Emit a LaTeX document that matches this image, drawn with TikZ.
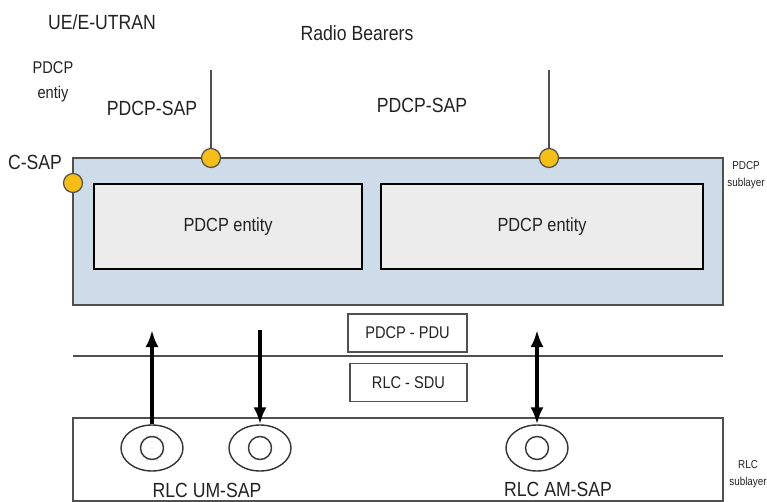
\documentclass[tikz,border=0pt]{standalone}
\usepackage{fontspec}
\setmainfont[FakeStretch=0.86]{Liberation Sans}
\usepackage{xcolor}
\usetikzlibrary{arrows.meta}
\usetikzlibrary{shapes.geometric}

\definecolor{layerblue}{RGB}{206,219,233}
\definecolor{entitygray}{RGB}{236,236,236}
\definecolor{sapyellow}{RGB}{247,190,22}
\definecolor{textgray}{RGB}{35,35,35}
\definecolor{linegray}{RGB}{80,80,80}

\tikzset{flowtip/.tip={Latex[length=17pt,width=13pt]}}

\begin{document}
\begin{tikzpicture}[x=1pt, y=-1pt,
  every node/.style={text=textgray, inner sep=0pt},
  biglabel/.style={font=\fontsize{20.5}{22}\selectfont},
  midlabel/.style={font=\fontsize{19}{21}\selectfont},
  smalllabel/.style={font=\fontsize{17}{25}\selectfont, align=center},
  tinylabel/.style={font=\fontsize{11.5}{17}\selectfont, align=center},
  sapdot/.style={circle, draw=linegray, fill=sapyellow, line width=1.2pt, minimum size=19pt},
  entitybox/.style={draw=black, line width=2.5pt, fill=entitygray, minimum width=268pt, minimum height=85pt, midlabel},
  dubox/.style={draw=linegray, line width=1.2pt, fill=white, minimum height=38pt, font=\fontsize{17}{19}\selectfont},
  sapring/.style={ellipse, draw=black!80, line width=1.4pt, minimum width=62pt, minimum height=46pt},
  sapcore/.style={circle, draw=black!80, line width=1.4pt, minimum size=23pt},
  flow/.style={line width=3.5pt, black}]

\useasboundingbox (0,0) rectangle (767,502);
\clip (0,0) rectangle (767,502);

% PDCP sublayer
\node[draw=linegray, line width=2pt, fill=layerblue, minimum width=650pt, minimum height=147pt] (pdcplayer) at (398,231.5) {};
\node[entitybox] (entityA) at (228,226.5) {PDCP entity};
\node[entitybox, minimum width=322pt] (entityB) at (542,226.5) {PDCP entity};

% service access points on top
\coordinate (bearerA) at (211,70);
\coordinate (bearerB) at (549,70);
\node[sapdot] (sapA) at (211,158) {};
\node[sapdot] (sapB) at (549,158) {};
\node[sapdot] (csap) at (73,183) {};
\draw[linegray, line width=1.5pt] (sapA) -- (bearerA);
\draw[linegray, line width=1.5pt] (sapB) -- (bearerB);

% texts above
\node[biglabel] (ue) at (102,22) {UE/E-UTRAN};
\node[biglabel] (bearers) at (357,33) {Radio Bearers};
\node[smalllabel] (entlabel) at (53,82) {PDCP\\entiy};
\node[biglabel] (saplabelA) at (152,108) {PDCP-SAP};
\node[biglabel] (saplabelB) at (422,105) {PDCP-SAP};
\node[biglabel] (csaplabel) at (35,162) {C-SAP};
\node[tinylabel] (pdcpsub) at (746,175) {PDCP\\sublayer};

% PDU / SDU between the sublayers
\coordinate (sepL) at (73,356);
\coordinate (sepR) at (723,356);
\draw[linegray, line width=1.5pt] (sepL) -- (sepR);
\node[dubox, minimum width=119pt] (pdu) at (407.5,333) {PDCP - PDU};
\node[dubox, minimum width=117pt] (sdu) at (408.5,382.5) {RLC - SDU};

% RLC sublayer
\draw[linegray, line width=1.5pt] (73,501) -- (73,418) -- (723,418) -- (723,501) -- cycle;
\node[tinylabel] (rlcsub) at (748,474) {RLC\\sublayer};

\node[sapring] (umA) at (152,448) {};
\node[sapring] (umB) at (260,448) {};
\node[sapring] (am) at (537,448) {};
\node[sapcore] (umAcore) at (umA) {};
\node[sapcore] (umBcore) at (umB) {};
\node[sapcore] (amcore) at (am) {};
\node[biglabel] (umlabel) at (207,490) {RLC UM-SAP};
\node[biglabel] (amlabel) at (558,489) {RLC AM-SAP};

% data flow
\coordinate (upA) at (152,330);
\coordinate (upB) at (260,330);
\coordinate (upC) at (537,330);
\draw[flow, -flowtip] (umA.north) -- (upA);
\draw[flow, flowtip-] (umB.north) -- (upB);
\draw[flow, flowtip-flowtip] (am.north) -- (upC);

\end{tikzpicture}
\end{document}
